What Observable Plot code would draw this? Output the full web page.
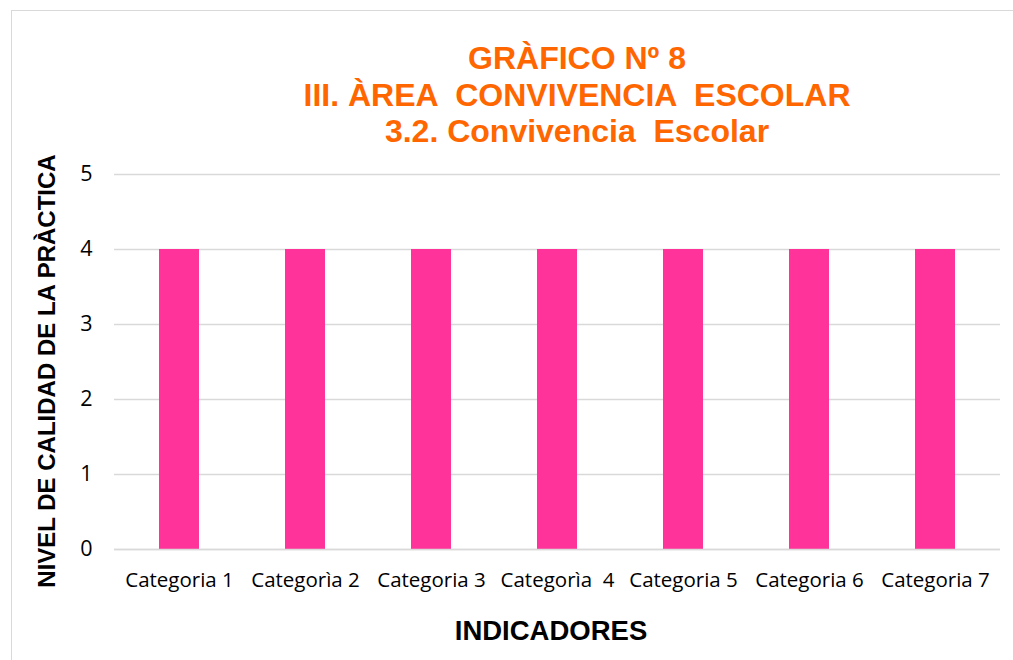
<!DOCTYPE html>
<html>
<head>
<meta charset="utf-8">
<script src="https://cdn.jsdelivr.net/npm/d3@7"></script>
<script src="https://cdn.jsdelivr.net/npm/@observablehq/plot@0.6"></script>
<style>
  html, body { margin: 0; padding: 0; background: #fff; }
  #wrap { position: relative; width: 1013px; height: 660px; overflow: hidden; }
  #frame { position: absolute; left: 11px; top: 10px; width: 1010px; height: 700px;
           border-top: 1.5px solid #d9d9d9; border-left: 1.5px solid #d9d9d9; box-sizing: border-box; }
  #title { position: absolute; left: 227px; width: 700px; top: 40px; text-align: center;
           font-family: "Liberation Sans", Arial, sans-serif; font-weight: bold; font-size: 32px;
           line-height: 36.5px; color: #FF6600; white-space: pre; }
  #ylabel { position: absolute; left: 47px; top: 371px; transform: translate(-50%, -50%) rotate(-90deg);
            font-family: "Liberation Sans", Arial, sans-serif; font-weight: bold; font-size: 24px;
            color: #000; white-space: pre; }
  #xlabel { position: absolute; left: 551px; top: 631px; transform: translate(-50%, -50%);
            font-family: "Liberation Sans", Arial, sans-serif; font-weight: bold; font-size: 27.5px;
            color: #000; white-space: pre; }
  #chart { position: absolute; left: 0; top: 0; }
  #chart svg text { white-space: pre; }
  #chart svg g[aria-label="y-axis tick label"] { font-size: 21.5px; }
  #chart svg g[aria-label="x-axis tick label"] { font-size: 20.5px; }
</style>
</head>
<body>
<div id="wrap">
  <div id="frame"></div>
  <div id="chart"></div>
  <div id="title"></div>
  <div id="ylabel"></div>
  <div id="xlabel"></div>
</div>
<script>
const titleLines = ["GRÀFICO Nº 8", "III. ÀREA  CONVIVENCIA  ESCOLAR", "3.2. Convivencia  Escolar"];
const yAxisTitle = "NIVEL DE CALIDAD DE LA PRÀCTICA";
const xAxisTitle = "INDICADORES";
const categories = ["Categoria 1", "Categorìa 2", "Categoria 3", "Categorìa  4", "Categoria 5", "Categoria 6", "Categoria 7"];
const values = [4, 4, 4, 4, 4, 4, 4];
const yTicks = [0, 1, 2, 3, 4, 5];

document.getElementById("title").textContent = titleLines.join("\n");
document.getElementById("ylabel").textContent = yAxisTitle;
document.getElementById("xlabel").textContent = xAxisTitle;

const data = categories.map((c, i) => ({category: c, value: values[i]}));

const chart = Plot.plot({
  width: 1013,
  height: 660,
  marginLeft: 114,
  marginRight: 13,
  marginTop: 174,
  marginBottom: 111,
  style: {background: "transparent", fontFamily: "'Open Sans', sans-serif", fontSize: "20px", color: "#000"},
  x: {domain: categories, paddingInner: 0.685, paddingOuter: 0.3425, label: null},
  y: {domain: [0, 5], ticks: yTicks, label: null},
  marks: [
    Plot.gridY(yTicks, {stroke: "#d9d9d9", strokeOpacity: 1, strokeWidth: 1.5}),
    Plot.barY(data, {x: "category", y: "value", fill: "#FF3399"}),
    Plot.ruleY([0], {stroke: "#d9d9d9", strokeWidth: 1.5}),
    Plot.axisY(yTicks, {tickSize: 0, tickPadding: 22, fontSize: 21.5, tickFormat: d3.format("d"), label: null}),
    Plot.axisX({tickSize: 0, tickPadding: 23, fontSize: 20.5, label: null})
  ]
});
document.getElementById("chart").appendChild(chart);
</script>
</body>
</html>
